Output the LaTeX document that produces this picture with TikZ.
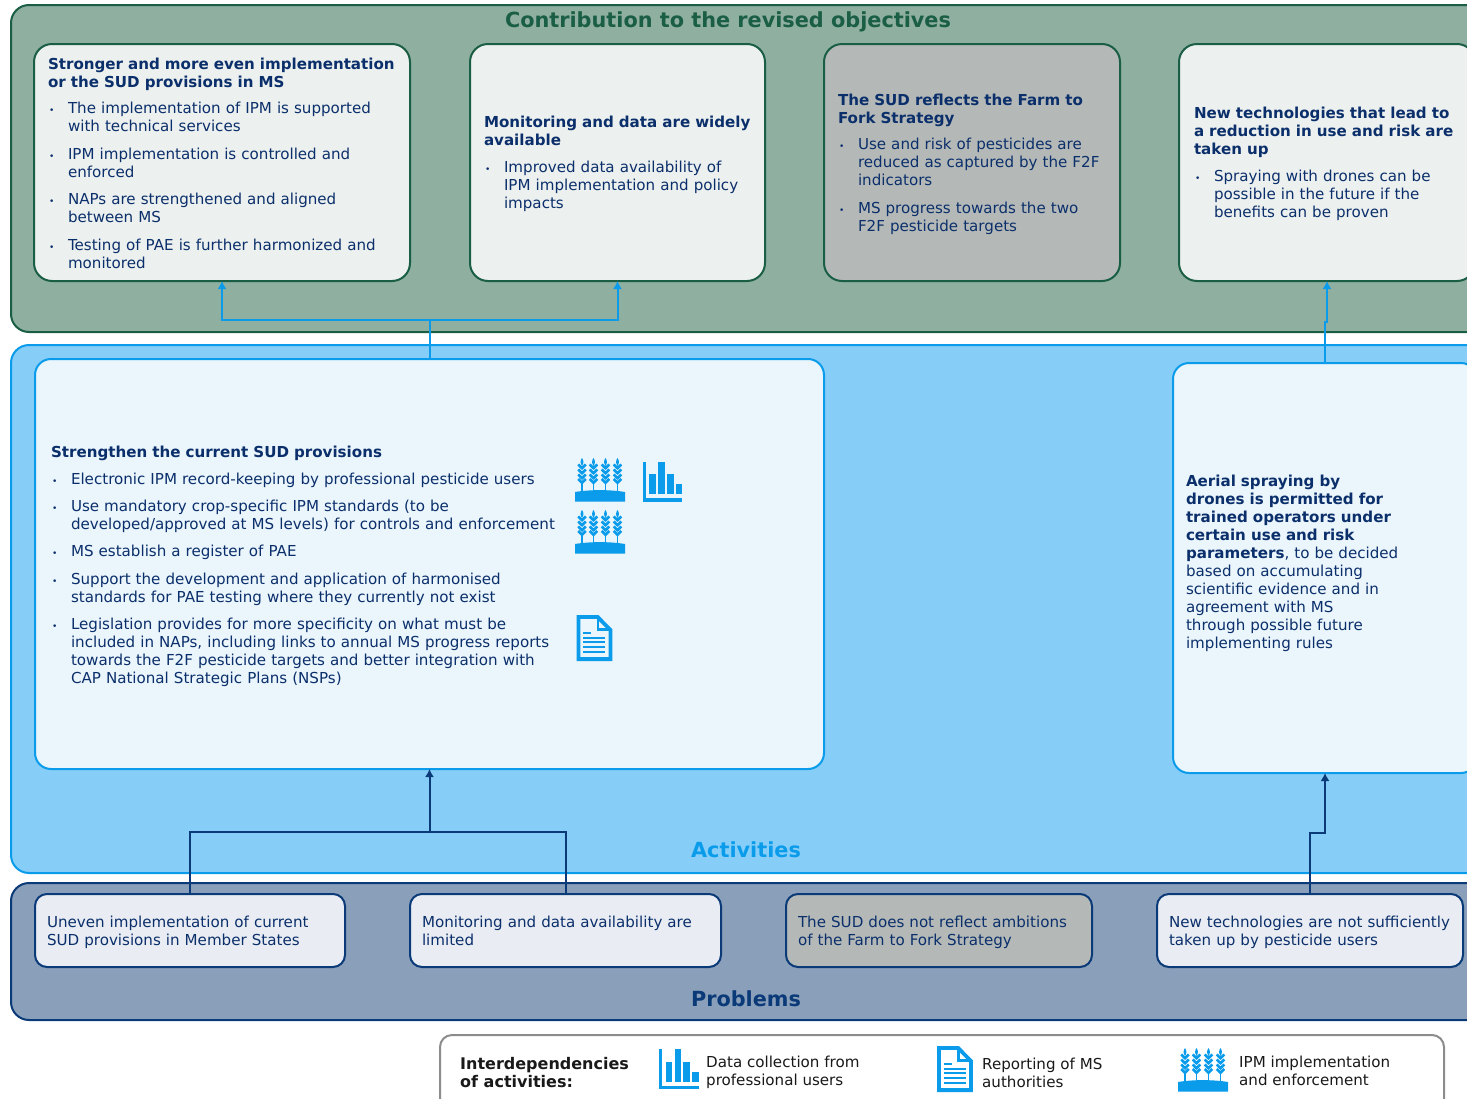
\documentclass[tikz,border=0pt]{standalone}
\usepackage{fontspec}
\setmainfont{DejaVu Sans}
\usetikzlibrary{arrows.meta}

\definecolor{greendark}{HTML}{1A5E45}
\definecolor{greenpanel}{HTML}{8FAFA0}
\definecolor{greenbox}{HTML}{ECF0EF}
\definecolor{greybox}{HTML}{B4B9B7}
\definecolor{bluelight}{HTML}{0A9CEB}
\definecolor{bluepanel}{HTML}{86CEF8}
\definecolor{bluebox}{HTML}{EAF5FC}
\definecolor{navy}{HTML}{0B3A78}
\definecolor{navypanel}{HTML}{8A9FB9}
\definecolor{navybox}{HTML}{E9EDF3}
\definecolor{inktext}{HTML}{0B2F6B}

\newcommand{\boxfont}{\fontsize{15.1}{18}\selectfont\color{inktext}}
\newcommand{\bitem}[2][9.6pt]{\par\vspace{#1}\noindent\hangindent=20pt\hangafter=1\makebox[20pt][l]{\hspace{1pt}\fontsize{9}{9}\selectfont•}#2\par}
% moves the centred text of a box: negative goes down
\newcommand{\boxpad}[1]{\par\kern#1\hrule height0pt}

\newcommand{\wheaticon}[2]{
  \begin{scope}[shift={(#1,#2)}]
    \foreach \sx in {7,18.5,30.5,42.5}{
      \fill[bluelight] (\sx,0) .. controls (\sx+2,3) and (\sx+1.8,5) .. (\sx,8) .. controls (\sx-1.8,5) and (\sx-2,3) .. (\sx,0);
      \foreach \ky in {6.5,11.5,16.5,21}
      \draw[bluelight,line width=2.7pt] (\sx-3.8,\ky) -- (\sx,\ky+3.6) -- (\sx+3.8,\ky);
      \draw[bluelight,line width=1.6pt] (\sx,24) -- (\sx,33);
    }
    \fill[bluelight] (0,34) .. controls (15,31.5) and (35,31.5) .. (50,34) -- (50,43.7) -- (0,43.7) -- cycle;
  \end{scope}
}
\newcommand{\charticon}[2]{
  \begin{scope}[shift={(#1,#2)}]
    \fill[bluelight] (0,0) rectangle (3.3,40);
    \fill[bluelight] (0,36.5) rectangle (39.5,40);
    \fill[bluelight] (6.5,12.5) rectangle (13,32.5);
    \fill[bluelight] (15.5,0) rectangle (22,32.5);
    \fill[bluelight] (24.3,12.5) rectangle (30.8,32.5);
    \fill[bluelight] (33,22.5) rectangle (39.5,32.5);
  \end{scope}
}
\newcommand{\docicon}[2]{
  \begin{scope}[shift={(#1,#2)}]
    \draw[bluelight,line width=3.8pt] (1.9,1.9) -- (21,1.9) -- (34,15) -- (34,44.1) -- (1.9,44.1) -- cycle;
    \draw[bluelight,line width=2.8pt] (21.5,2) -- (21.5,14.5) -- (34,14.5);
    \draw[bluelight,line width=1.7pt] (6.5,17.7) -- (14.5,17.7);
    \foreach \ly in {22.7,27.2,32,36.7}
    \draw[bluelight,line width=1.7pt] (6.5,\ly) -- (28.5,\ly);
  \end{scope}
}

\tikzset{
  panel/.style={draw, line width=2pt, rounded corners=18pt, anchor=north west, outer sep=0pt, inner sep=0pt},
  infobox/.style={draw, line width=2pt, rounded corners=16pt, anchor=north west, outer sep=0pt, inner xsep=14pt, inner ysep=0pt, align=left, font=\boxfont},
  greenbox/.style={infobox, draw=greendark, fill=greenbox, rounded corners=18pt},
  bluebox/.style={infobox, draw=bluelight, fill=bluebox},
  navybox/.style={infobox, draw=navy, fill=navybox, rounded corners=12pt, inner xsep=12pt},
  paneltitle/.style={font=\fontsize{20.8}{24}\selectfont\bfseries},
  legendtext/.style={anchor=west, align=left, inner sep=0pt, font=\fontsize{15.1}{18}\selectfont, text=black!90},
  bluelink/.style={draw=bluelight, line width=2pt},
  navylink/.style={draw=navy, line width=2pt},
  tip/.style={-{Latex[length=8pt,width=9pt]}}
}

\begin{document}
\begin{tikzpicture}[x=1pt, y=-1pt]
  \clip (0,0) rectangle (1467,1098);
  \useasboundingbox (0,0) rectangle (1467,1098);

  % panels
  \node[panel, draw=greendark, fill=greenpanel, minimum width=1500pt, minimum height=327pt] (contribution) at (11,5) {};
  \node[panel, draw=bluelight, fill=bluepanel, minimum width=1500pt, minimum height=528pt] (activities) at (11,345) {};
  \node[panel, draw=navy, fill=navypanel, minimum width=1500pt, minimum height=137pt] (problems) at (11,883) {};
  \node[panel, draw=black!45, fill=white, rounded corners=12pt, minimum width=1004pt, minimum height=90pt] (legend) at (440,1035) {};

  \node[paneltitle, text=greendark] (contributiontitle) at (728,22) {Contribution to the revised objectives};
  \node[paneltitle, text=bluelight] (activitiestitle) at (746,850) {Activities};
  \node[paneltitle, text=navy] (problemstitle) at (746,999) {Problems};

  % objectives
  \node[greenbox, minimum width=376pt, minimum height=237pt, text width=348pt] (objA) at (34,44) {%
    \textbf{Stronger and more even implementation\newline or the SUD provisions in MS}
    \bitem[7.6pt]{The implementation of IPM is supported\newline with technical services}
    \bitem{IPM implementation is controlled and\newline enforced}
    \bitem{NAPs are strengthened and aligned\newline between MS}
    \bitem{Testing of PAE is further harmonized and\newline monitored}\boxpad{-2pt}};
  \node[greenbox, minimum width=295pt, minimum height=237pt, text width=267pt] (objB) at (470,44) {%
    \textbf{Monitoring and data are widely\newline available}
    \bitem[8.6pt]{Improved data availability of\newline IPM implementation and policy\newline impacts}\boxpad{-3pt}};
  \node[greenbox, fill=greybox, minimum width=296pt, minimum height=237pt, text width=268pt] (objC) at (824,44) {%
    \textbf{The SUD reflects the Farm to\newline Fork Strategy}
    \bitem[8.6pt]{Use and risk of pesticides are\newline reduced as captured by the F2F\newline indicators}
    \bitem{MS progress towards the two\newline F2F pesticide targets}\boxpad{-3pt}};
  \node[greenbox, minimum width=296pt, minimum height=237pt, text width=266pt, inner xsep=15pt] (objD) at (1179,44) {%
    \textbf{New technologies that lead to\newline a reduction in use and risk are\newline taken up}
    \bitem[8.6pt]{Spraying with drones can be\newline possible in the future if the\newline benefits can be proven}\boxpad{-3pt}};

  % activities
  \node[bluebox, minimum width=789pt, minimum height=410pt, text width=757pt, inner xsep=16pt] (actA) at (35,359) {%
    \textbf{Strengthen the current SUD provisions}
    \bitem[9pt]{Electronic IPM record-keeping by professional pesticide users}
    \bitem{Use mandatory crop-specific IPM standards (to be\newline developed/approved at MS levels) for controls and enforcement}
    \bitem[9.2pt]{MS establish a register of PAE}
    \bitem[9.2pt]{Support the development and application of harmonised\newline standards for PAE testing where they currently not exist}
    \bitem[9.2pt]{Legislation provides for more specificity on what must be\newline included in NAPs, including links to annual MS progress reports\newline towards the F2F pesticide targets and better integration with\newline CAP National Strategic Plans (NSPs)}\boxpad{-4pt}};
  \node[bluebox, minimum width=304pt, minimum height=410pt, text width=278pt, inner xsep=13pt] (actB) at (1173,363) {%
    \textbf{Aerial spraying by\newline drones is permitted for\newline trained operators under\newline certain use and risk\newline parameters}, to be decided\newline based on accumulating\newline scientific evidence and in\newline agreement with MS\newline through possible future\newline implementing rules\boxpad{10pt}};

  \wheaticon{575}{458}
  \charticon{642.7}{461.7}
  \wheaticon{575}{510}
  \docicon{576.5}{615}

  % problems
  \node[navybox, minimum width=310pt, minimum height=73pt, text width=286pt] (probA) at (35,894) {Uneven implementation of current\newline SUD provisions in Member States\boxpad{-4pt}};
  \node[navybox, minimum width=311pt, minimum height=73pt, text width=287pt] (probB) at (410,894) {Monitoring and data availability are\newline limited};
  \node[navybox, fill=greybox, minimum width=306pt, minimum height=73pt, text width=282pt] (probC) at (786,894) {The SUD does not reflect ambitions\newline of the Farm to Fork Strategy\boxpad{-4pt}};
  \node[navybox, minimum width=306pt, minimum height=73pt, text width=282pt] (probD) at (1157,894) {New technologies are not sufficiently\newline taken up by pesticide users\boxpad{-4pt}};

  % connectors
  \draw[bluelink, tip] (actA.north) -- ++(0,-39) -| (objA.south);
  \draw[bluelink, tip] (actA.north) -- ++(0,-39) -| (objB.south);
  \draw[bluelink, tip] (actB.north) -- ++(0,-41) -| (objD.south);
  \draw[navylink] (probA.north) |- (probB.north |- 0,832) -- (probB.north);
  \draw[navylink, tip] (actA.south |- 0,832) -- (actA.south);
  \draw[navylink, tip] (probD.north) |- (actB.south |- 0,833) -- (actB.south);

  % legend
  \node[legendtext, font=\fontsize{16}{18}\selectfont\bfseries] (legendhead) at (460,1073) {Interdependencies\\of activities:};
  \charticon{659}{1049}
  \node[legendtext] (legendchart) at (706,1072) {Data collection from\\professional users};
  \docicon{937}{1046}
  \node[legendtext] (legenddoc) at (982,1073) {Reporting of MS\\authorities};
  \wheaticon{1178}{1048}
  \node[legendtext] (legendwheat) at (1239,1071) {IPM implementation\\and enforcement};
\end{tikzpicture}
\end{document}
